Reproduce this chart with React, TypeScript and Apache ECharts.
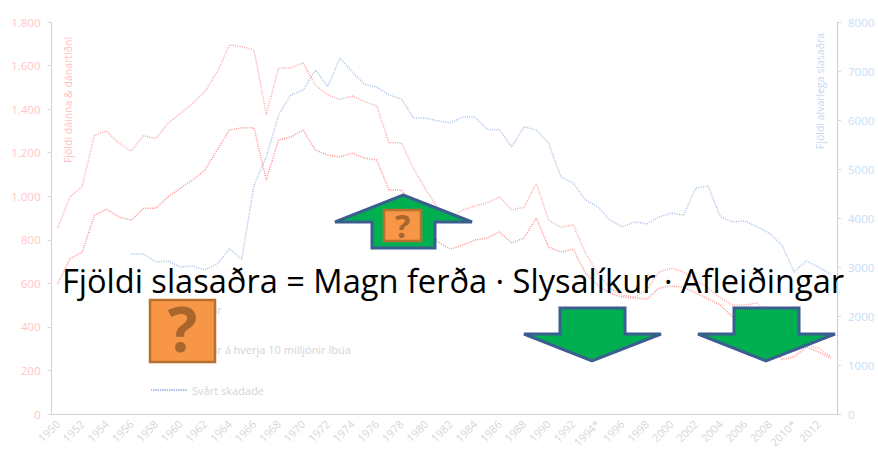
import React, { useEffect, useRef } from "react";
import * as echarts from "echarts";

const years: string[] = [];
for (let y = 1950; y <= 2013; y++) years.push(y === 1994 || y === 2010 ? y + "*" : String(y));

const deathsPerTenMillion = [
  854, 996, 1045, 1281, 1299, 1243, 1208, 1278, 1265, 1335, 1380, 1427, 1480, 1570, 1695, 1687, 1672, 1375, 1588, 1590,
  1612, 1510, 1465, 1445, 1460, 1435, 1415, 1245, 1245, 1128, 1030, 945, 900, 937, 955, 970, 997, 937, 950, 1060,
  890, 858, 868, 740, 647, 578, 546, 537, 570, 652, 670, 652, 615, 578, 533, 500, 500, 510, 430, 350,
  285, 317, 303, 262,
];
const deaths = [
  597, 712, 744, 913, 940, 904, 890, 945, 945, 997, 1037, 1074, 1120, 1212, 1304, 1314, 1314, 1074, 1258, 1272,
  1304, 1212, 1189, 1180, 1198, 1175, 1166, 1028, 1028, 960, 870, 790, 757, 776, 799, 808, 836, 785, 808, 900,
  767, 744, 757, 647, 592, 555, 537, 533, 528, 578, 588, 583, 555, 528, 500, 445, 395, 340, 320, 250,
  262, 308, 285, 257,
];
const seriouslyInjured = [
  null, null, null, null, null, null, 3265, 3265, 3100, 3120, 3000, 3020, 2940, 3060, 3370, 3160, 4670, 5245, 6100, 6510,
  6610, 7020, 6680, 7265, 6980, 6730, 6670, 6510, 6430, 6040, 6040, 5980, 5940, 6060, 6060, 5810, 5800, 5450, 5860, 5800,
  5530, 4840, 4710, 4370, 4230, 3960, 3820, 3920, 3880, 4020, 4100, 4060, 4610, 4650, 4020, 3920, 3940, 3820, 3690, 3450,
  2900, 3120, 3000, 2850,
];

const seriesNames = ["Látnir", "Látnir á hverja 10 milljónir íbúa", "Svårt skadade"];
const leftTitle = "Fjöldi dáinna & dánartíðni";
const rightTitle = "Fjöldi alvarlega slasaðra";
const headline = "Fjöldi slasaðra = Magn ferða · Slysalíkur · Afleiðingar";

const GREEN = "#00b050";
const NAVY = "#3a5f8f";
const ORANGE = "#f79646";
const BROWN = "#b8702f";
const MARK = "#a8652c";

const arrow = (points: number[][]) => ({
  type: "polygon",
  z: 10,
  shape: { points },
  style: { fill: GREEN, stroke: NAVY, lineWidth: 3, lineJoin: "miter" },
});

const questionBox = (x: number, y: number, w: number, h: number, size: number, lw: number, z: number, lift: number) => [
  { type: "rect", z, shape: { x, y, width: w, height: h }, style: { fill: ORANGE, stroke: BROWN, lineWidth: lw } },
  {
    type: "text",
    z: z + 1,
    x: x + w / 2,
    y: y + h / 2 - lift,
    style: {
      text: "?",
      fill: MARK,
      font: `bold ${size}px "Open Sans", sans-serif`,
      lineHeight: h * 0.8,
      align: "center",
      verticalAlign: "middle",
    },
  },
];

export default function App() {
  const ref = useRef<HTMLDivElement>(null);

  useEffect(() => {
    document.body.style.margin = "0";
    const chart = echarts.init(ref.current!, undefined, { renderer: "svg" });
    const dotted = (color: string, width = 1.5) => ({ color, width, type: [1, 1.3] as number[] });
    chart.setOption({
      animation: false,
      backgroundColor: "#ffffff",
      grid: { left: 51.5, right: 41, top: 22, bottom: 40 },
      legend: {
        orient: "vertical",
        left: 145,
        top: 299,
        itemGap: 29,
        itemWidth: 36,
        itemHeight: 14,
        itemStyle: { opacity: 0 },
        textStyle: { color: "#d4d4d4", fontSize: 11, fontFamily: "Open Sans" },
        data: seriesNames,
      },
      xAxis: {
        type: "category",
        data: years,
        boundaryGap: true,
        axisLine: { lineStyle: { color: "#cfcfcf", type: "dotted" } },
        axisTick: { interval: 0, length: 4, lineStyle: { color: "#d8d8d8" } },
        axisLabel: { interval: 1, rotate: 45, fontSize: 11, color: "#d6d6d6", margin: 8, fontFamily: "Open Sans" },
        splitLine: { show: false },
      },
      yAxis: [
        {
          type: "value",
          min: 0,
          max: 1800,
          interval: 200,
          axisLine: { show: true, lineStyle: { color: "#c8c8c8", type: "dotted" } },
          axisTick: { show: true, length: 4, lineStyle: { color: "#d8d8d8" } },
          axisLabel: {
            color: "#ffc6c6",
            fontSize: 11.5,
            margin: 11,
            fontFamily: "Open Sans",
            formatter: (v: number) => String(v).replace(/\B(?=(\d{3})+$)/g, "."),
          },
          splitLine: { show: false },
        },
        {
          type: "value",
          min: 0,
          max: 8000,
          interval: 1000,
          position: "right",
          axisLine: { show: true, lineStyle: { color: "#c0c0c0", type: "dotted" } },
          axisTick: { show: true, length: 4, lineStyle: { color: "#d8d8d8" } },
          axisLabel: { color: "#c6def5", fontSize: 11.5, margin: 11, fontFamily: "Open Sans", formatter: (v: number) => String(v) },
          splitLine: { show: false },
        },
      ],
      series: [
        { name: seriesNames[0], type: "line", yAxisIndex: 0, data: deaths, symbol: "none", lineStyle: dotted("#ff8f8f") },
        { name: seriesNames[1], type: "line", yAxisIndex: 0, data: deathsPerTenMillion, symbol: "none", lineStyle: dotted("#ffa6a6") },
        { name: seriesNames[2], type: "line", yAxisIndex: 1, data: seriouslyInjured, symbol: "none", lineStyle: dotted("#a8c0e4") },
      ],
      graphic: [
        {
          type: "text",
          z: 5,
          x: 68,
          y: 100,
          rotation: Math.PI / 2,
          style: { text: leftTitle, fill: "#ffc0c0", font: '10.5px "Open Sans"', align: "center", verticalAlign: "middle" },
        },
        {
          type: "text",
          z: 5,
          x: 820,
          y: 91,
          rotation: Math.PI / 2,
          style: { text: rightTitle, fill: "#c6d8ee", font: '10.5px "Open Sans"', align: "center", verticalAlign: "middle" },
        },
        { type: "polyline", z: 5, shape: { points: [[153, 390], [187, 390]] }, style: { stroke: "#a8c0e4", lineWidth: 2, lineDash: [1, 1.3] } },
        arrow([[403, 195], [472, 222], [435, 222], [435, 248], [372, 248], [372, 222], [335, 222]]),
        ...questionBox(384, 210, 37, 31, 32, 2.5, 11, 0),
        ...questionBox(150, 300, 65, 62, 62, 2.5, 11, 3),
        arrow([[560, 308], [625, 308], [625, 334], [661, 334], [592, 361], [524, 334], [560, 334]]),
        arrow([[734, 308], [799, 308], [799, 334], [835, 334], [766, 361], [698, 334], [734, 334]]),
        {
          type: "text",
          z: 14,
          x: 453,
          y: 280,
          style: { text: headline, fill: "#000000", font: '32.6px "Open Sans"', align: "center", verticalAlign: "middle" },
        },
      ],
    });
    return () => chart.dispose();
  }, []);

  return <div ref={ref} style={{ position: "absolute", left: 0, top: 0, width: 878, height: 454 }} />;
}
